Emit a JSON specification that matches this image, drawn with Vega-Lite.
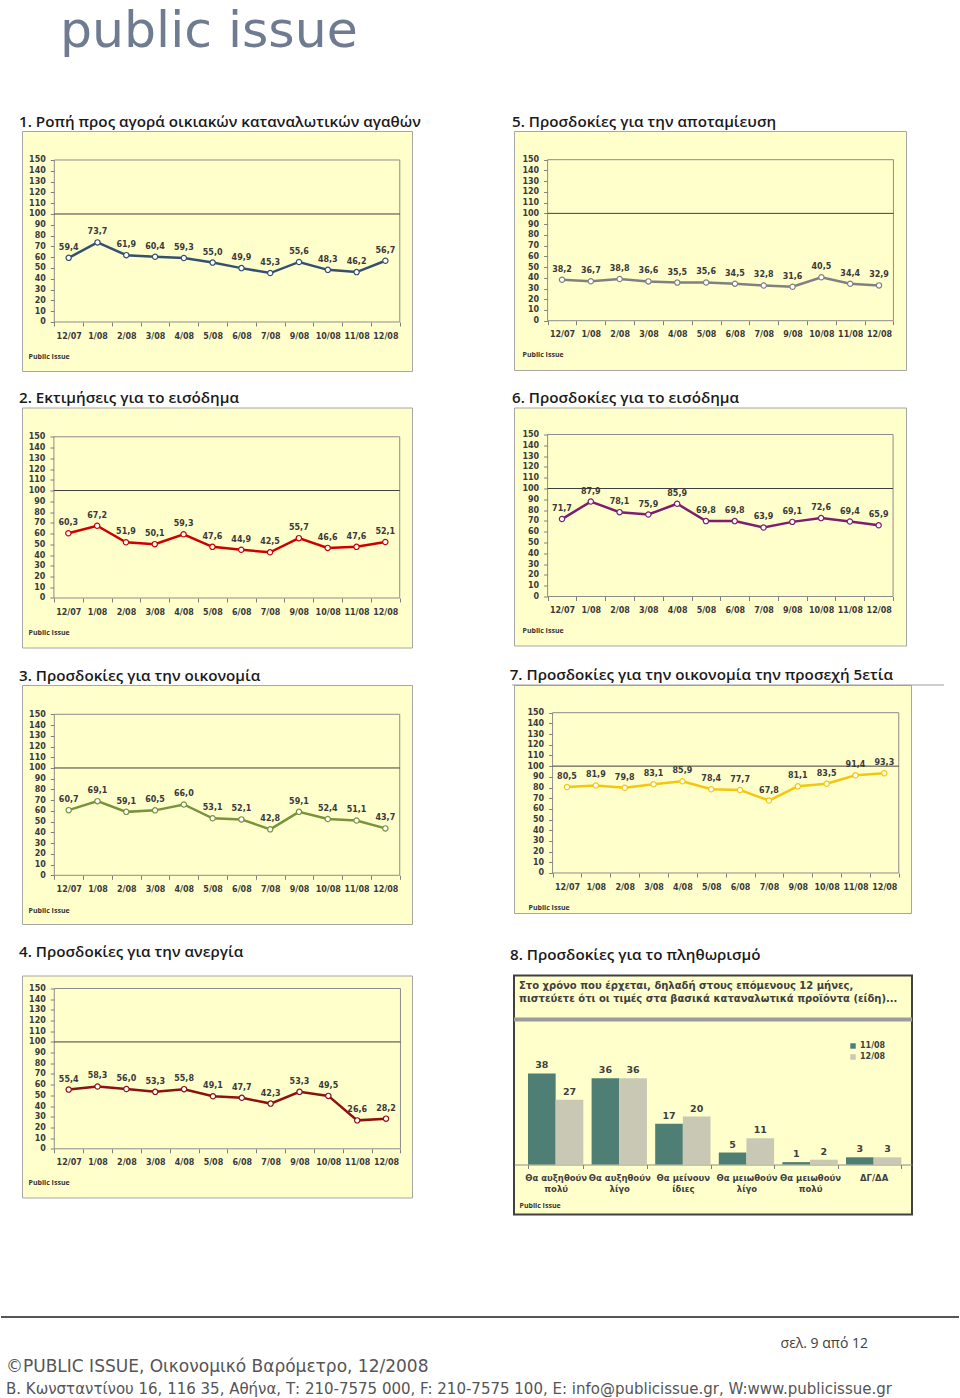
{
  "$schema": "https://vega.github.io/schema/vega-lite/v6.json",
  "padding": {"left": 0, "top": 7, "right": 0, "bottom": 0},
  "background": "white",
  "title": {"text": "public issue", "anchor": "start", "dx": 60, "offset": 56.8, "fontSize": 50.5, "font": "DejaVu Sans", "fontWeight": "normal", "color": "#6E7B91"},
  "config": {
    "locale": {"number": {"decimal": ",", "thousands": ".", "grouping": [3], "currency": ["", " €"]}},
    "view": {"fill": "#FFFFCC", "stroke": "#A6A6A6", "strokeWidth": 1},
    "title": {"font": "Open Sans", "fontSize": 15.2, "fontWeight": 600, "color": "#1a1a1a", "anchor": "start"},
    "axis": {"labelFont": "DejaVu Sans", "labelFontSize": 8, "labelFontWeight": "bold", "labelColor": "#3a3a3a", "tickColor": "#7f7f7f", "grid": false, "domain": false, "labelFlush": false, "labelOverlap": false, "titleFont": "Open Sans", "titleFontSize": 7, "titleFontWeight": "bold", "titleColor": "#333333"},
    "text": {"font": "DejaVu Sans", "fontSize": 8, "fontWeight": "bold", "color": "#3a3a3a"}
  },
  "datasets": {
    "p1": [{"m":"12/07","v":59.4},{"m":"1/08","v":73.7},{"m":"2/08","v":61.9},{"m":"3/08","v":60.4},{"m":"4/08","v":59.3},{"m":"5/08","v":55.0},{"m":"6/08","v":49.9},{"m":"7/08","v":45.3},{"m":"9/08","v":55.6},{"m":"10/08","v":48.3},{"m":"11/08","v":46.2},{"m":"12/08","v":56.7}],
    "p2": [{"m":"12/07","v":60.3},{"m":"1/08","v":67.2},{"m":"2/08","v":51.9},{"m":"3/08","v":50.1},{"m":"4/08","v":59.3},{"m":"5/08","v":47.6},{"m":"6/08","v":44.9},{"m":"7/08","v":42.5},{"m":"9/08","v":55.7},{"m":"10/08","v":46.6},{"m":"11/08","v":47.6},{"m":"12/08","v":52.1}],
    "p3": [{"m":"12/07","v":60.7},{"m":"1/08","v":69.1},{"m":"2/08","v":59.1},{"m":"3/08","v":60.5},{"m":"4/08","v":66.0},{"m":"5/08","v":53.1},{"m":"6/08","v":52.1},{"m":"7/08","v":42.8},{"m":"9/08","v":59.1},{"m":"10/08","v":52.4},{"m":"11/08","v":51.1},{"m":"12/08","v":43.7}],
    "p4": [{"m":"12/07","v":55.4},{"m":"1/08","v":58.3},{"m":"2/08","v":56.0},{"m":"3/08","v":53.3},{"m":"4/08","v":55.8},{"m":"5/08","v":49.1},{"m":"6/08","v":47.7},{"m":"7/08","v":42.3},{"m":"9/08","v":53.3},{"m":"10/08","v":49.5},{"m":"11/08","v":26.6},{"m":"12/08","v":28.2}],
    "p5": [{"m":"12/07","v":38.2},{"m":"1/08","v":36.7},{"m":"2/08","v":38.8},{"m":"3/08","v":36.6},{"m":"4/08","v":35.5},{"m":"5/08","v":35.6},{"m":"6/08","v":34.5},{"m":"7/08","v":32.8},{"m":"9/08","v":31.6},{"m":"10/08","v":40.5},{"m":"11/08","v":34.4},{"m":"12/08","v":32.9}],
    "p6": [{"m":"12/07","v":71.7},{"m":"1/08","v":87.9},{"m":"2/08","v":78.1},{"m":"3/08","v":75.9},{"m":"4/08","v":85.9},{"m":"5/08","v":69.8},{"m":"6/08","v":69.8},{"m":"7/08","v":63.9},{"m":"9/08","v":69.1},{"m":"10/08","v":72.6},{"m":"11/08","v":69.4},{"m":"12/08","v":65.9}],
    "p7": [{"m":"12/07","v":80.5},{"m":"1/08","v":81.9},{"m":"2/08","v":79.8},{"m":"3/08","v":83.1},{"m":"4/08","v":85.9},{"m":"5/08","v":78.4},{"m":"6/08","v":77.7},{"m":"7/08","v":67.8},{"m":"9/08","v":81.1},{"m":"10/08","v":83.5},{"m":"11/08","v":91.4},{"m":"12/08","v":93.3}],
    "p8": [
      {"cat":"Θα αυξηθούν πολύ","s":"11/08","v":38},{"cat":"Θα αυξηθούν πολύ","s":"12/08","v":27},
      {"cat":"Θα αυξηθούν λίγο","s":"11/08","v":36},{"cat":"Θα αυξηθούν λίγο","s":"12/08","v":36},
      {"cat":"Θα μείνουν ίδιες","s":"11/08","v":17},{"cat":"Θα μείνουν ίδιες","s":"12/08","v":20},
      {"cat":"Θα μειωθούν λίγο","s":"11/08","v":5},{"cat":"Θα μειωθούν λίγο","s":"12/08","v":11},
      {"cat":"Θα μειωθούν πολύ","s":"11/08","v":1},{"cat":"Θα μειωθούν πολύ","s":"12/08","v":2},
      {"cat":"ΔΓ/ΔΑ","s":"11/08","v":3},{"cat":"ΔΓ/ΔΑ","s":"12/08","v":3}
    ]
  },
  "vconcat": [
    {
      "hconcat": [
        {
          "width": 17, "height": 1,
          "view": {"fill": null, "stroke": null},
          "data": {"values": [{}]},
          "mark": {"type": "rule", "opacity": 0},
          "encoding": {"y": {"datum": 0, "type": "quantitative", "axis": null}}
        },
        {
          "vconcat": [
            {
              "hconcat": [
                {
                  "title": {"text": "1. Ροπή προς αγορά οικιακών καταναλωτικών αγαθών", "dx": -3, "offset": 1},
                  "width": 390, "height": 240,
                  "data": {"name": "p1"},
                  "transform": [{"window": [{"op": "row_number", "as": "i"}]}],
                  "layer": [
                    {"data": {"values": [{}]}, "mark": {"type": "rect", "filled": false, "stroke": "#8C8C8C", "strokeWidth": 1},
                     "encoding": {
                       "x": {"datum": 0.5, "type": "quantitative", "scale": {"domain": [-0.622, 12.924], "nice": false, "zero": false},
                             "axis": {"orient": "bottom", "offset": -49, "values": [0.5,1.5,2.5,3.5,4.5,5.5,6.5,7.5,8.5,9.5,10.5,11.5,12.5], "labels": false, "ticks": true, "tickSize": 4, "title": "Public Issue", "titleX": 6, "titleY": 34, "titleAlign": "left", "titleBaseline": "middle"}},
                       "x2": {"datum": 12.5},
                       "y": {"datum": 0, "type": "quantitative", "scale": {"domain": [-45.37, 176.85], "nice": false, "zero": false}, "axis": null},
                       "y2": {"datum": 150}}},
                    {"data": {"values": [{}]}, "mark": {"type": "rule", "color": "#3f3f3f", "strokeWidth": 1},
                     "encoding": {
                       "x": {"datum": 0.5, "type": "quantitative", "scale": {"domain": [-0.622, 12.924], "nice": false, "zero": false}, "axis": null},
                       "x2": {"datum": 12.5},
                       "y": {"datum": 100, "type": "quantitative", "scale": {"domain": [-45.37, 176.85], "nice": false, "zero": false}, "axis": null}}},
                    {"mark": {"type": "line", "color": "#34506E", "strokeWidth": 2.5},
                     "encoding": {
                       "x": {"field": "i", "type": "quantitative", "scale": {"domain": [-0.622, 12.924], "nice": false, "zero": false},
                             "axis": {"orient": "bottom", "offset": -49, "values": [1,2,3,4,5,6,7,8,9,10,11,12], "ticks": false, "labelPadding": 10, "title": null, "labelExpr": "['12/07','1/08','2/08','3/08','4/08','5/08','6/08','7/08','9/08','10/08','11/08','12/08'][datum.value-1]"}},
                       "y": {"field": "v", "type": "quantitative", "scale": {"domain": [-45.37, 176.85], "nice": false, "zero": false},
                             "axis": {"orient": "left", "values": [0,10,20,30,40,50,60,70,80,90,100,110,120,130,140,150], "offset": -32.3, "tickSize": 4, "labelPadding": 5, "title": null}}}},
                    {"mark": {"type": "point", "shape": "circle", "filled": true, "fill": "white", "stroke": "#34506E", "strokeWidth": 1.2, "size": 28, "opacity": 1},
                     "encoding": {
                       "x": {"field": "i", "type": "quantitative", "scale": {"domain": [-0.622, 12.924], "nice": false, "zero": false}, "axis": null},
                       "y": {"field": "v", "type": "quantitative", "scale": {"domain": [-45.37, 176.85], "nice": false, "zero": false}, "axis": null}}},
                    {"mark": {"type": "text", "dy": -10},
                     "encoding": {
                       "x": {"field": "i", "type": "quantitative", "scale": {"domain": [-0.622, 12.924], "nice": false, "zero": false}, "axis": null},
                       "y": {"field": "v", "type": "quantitative", "scale": {"domain": [-45.37, 176.85], "nice": false, "zero": false}, "axis": null},
                       "text": {"field": "v", "type": "quantitative", "format": ".1f"}}}
                  ],
                  "resolve": {"axis": {"x": "independent", "y": "independent"}}
                },
                {
                  "title": {"text": "5. Προσδοκίες για την αποταμίευση", "dx": -2, "offset": 1},
                  "width": 392, "height": 239,
                  "data": {"name": "p5"},
                  "transform": [{"window": [{"op": "row_number", "as": "i"}]}],
                  "layer": [
                    {"data": {"values": [{}]}, "mark": {"type": "rect", "filled": false, "stroke": "#8C8C8C", "strokeWidth": 1},
                     "encoding": {
                       "x": {"datum": 0.5, "type": "quantitative", "scale": {"domain": [-0.666, 12.936], "nice": false, "zero": false},
                             "axis": {"orient": "bottom", "offset": -49.3, "values": [0.5,1.5,2.5,3.5,4.5,5.5,6.5,7.5,8.5,9.5,10.5,11.5,12.5], "labels": false, "ticks": true, "tickSize": 4, "title": "Public Issue", "titleX": 8, "titleY": 33.5, "titleAlign": "left", "titleBaseline": "middle"}},
                       "x2": {"datum": 12.5},
                       "y": {"datum": 0, "type": "quantitative", "scale": {"domain": [-45.93, 176.74], "nice": false, "zero": false}, "axis": null},
                       "y2": {"datum": 150}}},
                    {"data": {"values": [{}]}, "mark": {"type": "rule", "color": "#3f3f3f", "strokeWidth": 1},
                     "encoding": {
                       "x": {"datum": 0.5, "type": "quantitative", "scale": {"domain": [-0.666, 12.936], "nice": false, "zero": false}, "axis": null},
                       "x2": {"datum": 12.5},
                       "y": {"datum": 100, "type": "quantitative", "scale": {"domain": [-45.93, 176.74], "nice": false, "zero": false}, "axis": null}}},
                    {"mark": {"type": "line", "color": "#808080", "strokeWidth": 2.5},
                     "encoding": {
                       "x": {"field": "i", "type": "quantitative", "scale": {"domain": [-0.666, 12.936], "nice": false, "zero": false},
                             "axis": {"orient": "bottom", "offset": -49.3, "values": [1,2,3,4,5,6,7,8,9,10,11,12], "ticks": false, "labelPadding": 10, "title": null, "labelExpr": "['12/07','1/08','2/08','3/08','4/08','5/08','6/08','7/08','9/08','10/08','11/08','12/08'][datum.value-1]"}},
                       "y": {"field": "v", "type": "quantitative", "scale": {"domain": [-45.93, 176.74], "nice": false, "zero": false},
                             "axis": {"orient": "left", "values": [0,10,20,30,40,50,60,70,80,90,100,110,120,130,140,150], "offset": -33.6, "tickSize": 4, "labelPadding": 5, "title": null}}}},
                    {"mark": {"type": "point", "shape": "circle", "filled": true, "fill": "white", "stroke": "#808080", "strokeWidth": 1.2, "size": 28, "opacity": 1},
                     "encoding": {
                       "x": {"field": "i", "type": "quantitative", "scale": {"domain": [-0.666, 12.936], "nice": false, "zero": false}, "axis": null},
                       "y": {"field": "v", "type": "quantitative", "scale": {"domain": [-45.93, 176.74], "nice": false, "zero": false}, "axis": null}}},
                    {"mark": {"type": "text", "dy": -10},
                     "encoding": {
                       "x": {"field": "i", "type": "quantitative", "scale": {"domain": [-0.666, 12.936], "nice": false, "zero": false}, "axis": null},
                       "y": {"field": "v", "type": "quantitative", "scale": {"domain": [-45.93, 176.74], "nice": false, "zero": false}, "axis": null},
                       "text": {"field": "v", "type": "quantitative", "format": ".1f"}}}
                  ],
                  "resolve": {"axis": {"x": "independent", "y": "independent"}}
                }
              ],
              "spacing": 102, "bounds": "flush"
            },
            {
              "hconcat": [
                {
                  "title": {"text": "2. Εκτιμήσεις για το εισόδημα", "dx": -3, "offset": 1},
                  "width": 390, "height": 240,
                  "data": {"name": "p2"},
                  "transform": [{"window": [{"op": "row_number", "as": "i"}]}],
                  "layer": [
                    {"data": {"values": [{}]}, "mark": {"type": "rect", "filled": false, "stroke": "#8C8C8C", "strokeWidth": 1},
                     "encoding": {
                       "x": {"datum": 0.5, "type": "quantitative", "scale": {"domain": [-0.607, 12.926], "nice": false, "zero": false},
                             "axis": {"orient": "bottom", "offset": -49.5, "values": [0.5,1.5,2.5,3.5,4.5,5.5,6.5,7.5,8.5,9.5,10.5,11.5,12.5], "labels": false, "ticks": true, "tickSize": 4, "title": "Public Issue", "titleX": 6, "titleY": 34.5, "titleAlign": "left", "titleBaseline": "middle"}},
                       "x2": {"datum": 12.5},
                       "y": {"datum": 0, "type": "quantitative", "scale": {"domain": [-46.06, 177.26], "nice": false, "zero": false}, "axis": null},
                       "y2": {"datum": 150}}},
                    {"data": {"values": [{}]}, "mark": {"type": "rule", "color": "#3f3f3f", "strokeWidth": 1},
                     "encoding": {
                       "x": {"datum": 0.5, "type": "quantitative", "scale": {"domain": [-0.607, 12.926], "nice": false, "zero": false}, "axis": null},
                       "x2": {"datum": 12.5},
                       "y": {"datum": 100, "type": "quantitative", "scale": {"domain": [-46.06, 177.26], "nice": false, "zero": false}, "axis": null}}},
                    {"mark": {"type": "line", "color": "#CC0000", "strokeWidth": 2.5},
                     "encoding": {
                       "x": {"field": "i", "type": "quantitative", "scale": {"domain": [-0.607, 12.926], "nice": false, "zero": false},
                             "axis": {"orient": "bottom", "offset": -49.5, "values": [1,2,3,4,5,6,7,8,9,10,11,12], "ticks": false, "labelPadding": 10, "title": null, "labelExpr": "['12/07','1/08','2/08','3/08','4/08','5/08','6/08','7/08','9/08','10/08','11/08','12/08'][datum.value-1]"}},
                       "y": {"field": "v", "type": "quantitative", "scale": {"domain": [-46.06, 177.26], "nice": false, "zero": false},
                             "axis": {"orient": "left", "values": [0,10,20,30,40,50,60,70,80,90,100,110,120,130,140,150], "offset": -31.9, "tickSize": 4, "labelPadding": 5, "title": null}}}},
                    {"mark": {"type": "point", "shape": "circle", "filled": true, "fill": "white", "stroke": "#CC0000", "strokeWidth": 1.2, "size": 28, "opacity": 1},
                     "encoding": {
                       "x": {"field": "i", "type": "quantitative", "scale": {"domain": [-0.607, 12.926], "nice": false, "zero": false}, "axis": null},
                       "y": {"field": "v", "type": "quantitative", "scale": {"domain": [-46.06, 177.26], "nice": false, "zero": false}, "axis": null}}},
                    {"mark": {"type": "text", "dy": -10},
                     "encoding": {
                       "x": {"field": "i", "type": "quantitative", "scale": {"domain": [-0.607, 12.926], "nice": false, "zero": false}, "axis": null},
                       "y": {"field": "v", "type": "quantitative", "scale": {"domain": [-46.06, 177.26], "nice": false, "zero": false}, "axis": null},
                       "text": {"field": "v", "type": "quantitative", "format": ".1f"}}}
                  ],
                  "resolve": {"axis": {"x": "independent", "y": "independent"}}
                },
                {
                  "title": {"text": "6. Προσδοκίες για το εισόδημα", "dx": -2, "offset": 1},
                  "width": 392, "height": 238,
                  "data": {"name": "p6"},
                  "transform": [{"window": [{"op": "row_number", "as": "i"}]}],
                  "layer": [
                    {"data": {"values": [{}]}, "mark": {"type": "rect", "filled": false, "stroke": "#8C8C8C", "strokeWidth": 1},
                     "encoding": {
                       "x": {"datum": 0.5, "type": "quantitative", "scale": {"domain": [-0.667, 12.949], "nice": false, "zero": false},
                             "axis": {"orient": "bottom", "offset": -49, "values": [0.5,1.5,2.5,3.5,4.5,5.5,6.5,7.5,8.5,9.5,10.5,11.5,12.5], "labels": false, "ticks": true, "tickSize": 4, "title": "Public Issue", "titleX": 8, "titleY": 34, "titleAlign": "left", "titleBaseline": "middle"}},
                       "x2": {"datum": 12.5},
                       "y": {"datum": 0, "type": "quantitative", "scale": {"domain": [-45.37, 175], "nice": false, "zero": false}, "axis": null},
                       "y2": {"datum": 150}}},
                    {"data": {"values": [{}]}, "mark": {"type": "rule", "color": "#3f3f3f", "strokeWidth": 1},
                     "encoding": {
                       "x": {"datum": 0.5, "type": "quantitative", "scale": {"domain": [-0.667, 12.949], "nice": false, "zero": false}, "axis": null},
                       "x2": {"datum": 12.5},
                       "y": {"datum": 100, "type": "quantitative", "scale": {"domain": [-45.37, 175], "nice": false, "zero": false}, "axis": null}}},
                    {"mark": {"type": "line", "color": "#7B1F6E", "strokeWidth": 2.5},
                     "encoding": {
                       "x": {"field": "i", "type": "quantitative", "scale": {"domain": [-0.667, 12.949], "nice": false, "zero": false},
                             "axis": {"orient": "bottom", "offset": -49, "values": [1,2,3,4,5,6,7,8,9,10,11,12], "ticks": false, "labelPadding": 10, "title": null, "labelExpr": "['12/07','1/08','2/08','3/08','4/08','5/08','6/08','7/08','9/08','10/08','11/08','12/08'][datum.value-1]"}},
                       "y": {"field": "v", "type": "quantitative", "scale": {"domain": [-45.37, 175], "nice": false, "zero": false},
                             "axis": {"orient": "left", "values": [0,10,20,30,40,50,60,70,80,90,100,110,120,130,140,150], "offset": -33.6, "tickSize": 4, "labelPadding": 5, "title": null}}}},
                    {"mark": {"type": "point", "shape": "circle", "filled": true, "fill": "white", "stroke": "#7B1F6E", "strokeWidth": 1.2, "size": 28, "opacity": 1},
                     "encoding": {
                       "x": {"field": "i", "type": "quantitative", "scale": {"domain": [-0.667, 12.949], "nice": false, "zero": false}, "axis": null},
                       "y": {"field": "v", "type": "quantitative", "scale": {"domain": [-45.37, 175], "nice": false, "zero": false}, "axis": null}}},
                    {"mark": {"type": "text", "dy": -10},
                     "encoding": {
                       "x": {"field": "i", "type": "quantitative", "scale": {"domain": [-0.667, 12.949], "nice": false, "zero": false}, "axis": null},
                       "y": {"field": "v", "type": "quantitative", "scale": {"domain": [-45.37, 175], "nice": false, "zero": false}, "axis": null},
                       "text": {"field": "v", "type": "quantitative", "format": ".1f"}}}
                  ],
                  "resolve": {"axis": {"x": "independent", "y": "independent"}}
                }
              ],
              "spacing": 102, "bounds": "flush"
            },
            {
              "hconcat": [
                {
                  "title": {"text": "3. Προσδοκίες για την οικονομία", "dx": -3, "offset": 1},
                  "width": 390, "height": 239,
                  "data": {"name": "p3"},
                  "transform": [{"window": [{"op": "row_number", "as": "i"}]}],
                  "layer": [
                    {"data": {"values": [{}]}, "mark": {"type": "rect", "filled": false, "stroke": "#8C8C8C", "strokeWidth": 1},
                     "encoding": {
                       "x": {"datum": 0.5, "type": "quantitative", "scale": {"domain": [-0.622, 12.926], "nice": false, "zero": false},
                             "axis": {"orient": "bottom", "offset": -48.7, "values": [0.5,1.5,2.5,3.5,4.5,5.5,6.5,7.5,8.5,9.5,10.5,11.5,12.5], "labels": false, "ticks": true, "tickSize": 4, "title": "Public Issue", "titleX": 6, "titleY": 35, "titleAlign": "left", "titleBaseline": "middle"}},
                       "x2": {"datum": 12.5},
                       "y": {"datum": 0, "type": "quantitative", "scale": {"domain": [-45.37, 177.3], "nice": false, "zero": false}, "axis": null},
                       "y2": {"datum": 150}}},
                    {"data": {"values": [{}]}, "mark": {"type": "rule", "color": "#3f3f3f", "strokeWidth": 1},
                     "encoding": {
                       "x": {"datum": 0.5, "type": "quantitative", "scale": {"domain": [-0.622, 12.926], "nice": false, "zero": false}, "axis": null},
                       "x2": {"datum": 12.5},
                       "y": {"datum": 100, "type": "quantitative", "scale": {"domain": [-45.37, 177.3], "nice": false, "zero": false}, "axis": null}}},
                    {"mark": {"type": "line", "color": "#77933C", "strokeWidth": 2.5},
                     "encoding": {
                       "x": {"field": "i", "type": "quantitative", "scale": {"domain": [-0.622, 12.926], "nice": false, "zero": false},
                             "axis": {"orient": "bottom", "offset": -48.7, "values": [1,2,3,4,5,6,7,8,9,10,11,12], "ticks": false, "labelPadding": 10, "title": null, "labelExpr": "['12/07','1/08','2/08','3/08','4/08','5/08','6/08','7/08','9/08','10/08','11/08','12/08'][datum.value-1]"}},
                       "y": {"field": "v", "type": "quantitative", "scale": {"domain": [-45.37, 177.3], "nice": false, "zero": false},
                             "axis": {"orient": "left", "values": [0,10,20,30,40,50,60,70,80,90,100,110,120,130,140,150], "offset": -32.3, "tickSize": 4, "labelPadding": 5, "title": null}}}},
                    {"mark": {"type": "point", "shape": "circle", "filled": true, "fill": "white", "stroke": "#77933C", "strokeWidth": 1.2, "size": 28, "opacity": 1},
                     "encoding": {
                       "x": {"field": "i", "type": "quantitative", "scale": {"domain": [-0.622, 12.926], "nice": false, "zero": false}, "axis": null},
                       "y": {"field": "v", "type": "quantitative", "scale": {"domain": [-45.37, 177.3], "nice": false, "zero": false}, "axis": null}}},
                    {"mark": {"type": "text", "dy": -10},
                     "encoding": {
                       "x": {"field": "i", "type": "quantitative", "scale": {"domain": [-0.622, 12.926], "nice": false, "zero": false}, "axis": null},
                       "y": {"field": "v", "type": "quantitative", "scale": {"domain": [-45.37, 177.3], "nice": false, "zero": false}, "axis": null},
                       "text": {"field": "v", "type": "quantitative", "format": ".1f"}}}
                  ],
                  "resolve": {"axis": {"x": "independent", "y": "independent"}}
                },
                {
                  "title": {"text": "7. Προσδοκίες για την οικονομία την προσεχή 5ετία", "dx": -2, "offset": 1},
                  "width": 397, "height": 228,
                  "data": {"name": "p7"},
                  "transform": [{"window": [{"op": "row_number", "as": "i"}]}],
                  "layer": [
                    {"data": {"values": [{}]}, "mark": {"type": "rule", "color": "#9A9A9A", "strokeWidth": 1},
                     "encoding": {
                       "x": {"datum": -0.9, "type": "quantitative", "scale": {"domain": [-0.837, 12.924], "nice": false, "zero": false}, "axis": null},
                       "x2": {"datum": 14.07},
                       "y": {"datum": 175.92, "type": "quantitative", "scale": {"domain": [-37.43, 175.92], "nice": false, "zero": false}, "axis": null}}},
                    {"data": {"values": [{}]}, "mark": {"type": "rect", "filled": false, "stroke": "#8C8C8C", "strokeWidth": 1},
                     "encoding": {
                       "x": {"datum": 0.5, "type": "quantitative", "scale": {"domain": [-0.837, 12.924], "nice": false, "zero": false},
                             "axis": {"orient": "bottom", "offset": -40, "values": [0.5,1.5,2.5,3.5,4.5,5.5,6.5,7.5,8.5,9.5,10.5,11.5,12.5], "labels": false, "ticks": true, "tickSize": 4, "title": "Public Issue", "titleX": 14, "titleY": 34, "titleAlign": "left", "titleBaseline": "middle"}},
                       "x2": {"datum": 12.5},
                       "y": {"datum": 0, "type": "quantitative", "scale": {"domain": [-37.43, 175.92], "nice": false, "zero": false}, "axis": null},
                       "y2": {"datum": 150}}},
                    {"data": {"values": [{}]}, "mark": {"type": "rule", "color": "#3f3f3f", "strokeWidth": 1},
                     "encoding": {
                       "x": {"datum": 0.5, "type": "quantitative", "scale": {"domain": [-0.837, 12.924], "nice": false, "zero": false}, "axis": null},
                       "x2": {"datum": 12.5},
                       "y": {"datum": 100, "type": "quantitative", "scale": {"domain": [-37.43, 175.92], "nice": false, "zero": false}, "axis": null}}},
                    {"mark": {"type": "line", "color": "#F4C70C", "strokeWidth": 2.5},
                     "encoding": {
                       "x": {"field": "i", "type": "quantitative", "scale": {"domain": [-0.837, 12.924], "nice": false, "zero": false},
                             "axis": {"orient": "bottom", "offset": -40, "values": [1,2,3,4,5,6,7,8,9,10,11,12], "ticks": false, "labelPadding": 10, "title": null, "labelExpr": "['12/07','1/08','2/08','3/08','4/08','5/08','6/08','7/08','9/08','10/08','11/08','12/08'][datum.value-1]"}},
                       "y": {"field": "v", "type": "quantitative", "scale": {"domain": [-37.43, 175.92], "nice": false, "zero": false},
                             "axis": {"orient": "left", "values": [0,10,20,30,40,50,60,70,80,90,100,110,120,130,140,150], "offset": -38.6, "tickSize": 4, "labelPadding": 5, "title": null}}}},
                    {"mark": {"type": "point", "shape": "circle", "filled": true, "fill": "white", "stroke": "#F4C70C", "strokeWidth": 1.2, "size": 28, "opacity": 1},
                     "encoding": {
                       "x": {"field": "i", "type": "quantitative", "scale": {"domain": [-0.837, 12.924], "nice": false, "zero": false}, "axis": null},
                       "y": {"field": "v", "type": "quantitative", "scale": {"domain": [-37.43, 175.92], "nice": false, "zero": false}, "axis": null}}},
                    {"mark": {"type": "text", "dy": -10},
                     "encoding": {
                       "x": {"field": "i", "type": "quantitative", "scale": {"domain": [-0.837, 12.924], "nice": false, "zero": false}, "axis": null},
                       "y": {"field": "v", "type": "quantitative", "scale": {"domain": [-37.43, 175.92], "nice": false, "zero": false}, "axis": null},
                       "text": {"field": "v", "type": "quantitative", "format": ".1f"}}}
                  ],
                  "resolve": {"axis": {"x": "independent", "y": "independent"}}
                }
              ],
              "spacing": 102, "bounds": "flush"
            },
            {
              "hconcat": [
                {
                  "title": {"text": "4. Προσδοκίες για την ανεργία", "dx": -3, "offset": 15.8},
                  "width": 390, "height": 222,
                  "data": {"name": "p4"},
                  "transform": [{"window": [{"op": "row_number", "as": "i"}]}],
                  "layer": [
                    {"data": {"values": [{}]}, "mark": {"type": "rect", "filled": false, "stroke": "#8C8C8C", "strokeWidth": 1},
                     "encoding": {
                       "x": {"datum": 0.5, "type": "quantitative", "scale": {"domain": [-0.619, 12.9], "nice": false, "zero": false},
                             "axis": {"orient": "bottom", "offset": -48.7, "values": [0.5,1.5,2.5,3.5,4.5,5.5,6.5,7.5,8.5,9.5,10.5,11.5,12.5], "labels": false, "ticks": true, "tickSize": 4, "title": "Public Issue", "titleX": 6, "titleY": 34, "titleAlign": "left", "titleBaseline": "middle"}},
                       "x2": {"datum": 12.5},
                       "y": {"datum": 0, "type": "quantitative", "scale": {"domain": [-45.57, 162.16], "nice": false, "zero": false}, "axis": null},
                       "y2": {"datum": 150}}},
                    {"data": {"values": [{}]}, "mark": {"type": "rule", "color": "#3f3f3f", "strokeWidth": 1},
                     "encoding": {
                       "x": {"datum": 0.5, "type": "quantitative", "scale": {"domain": [-0.619, 12.9], "nice": false, "zero": false}, "axis": null},
                       "x2": {"datum": 12.5},
                       "y": {"datum": 100, "type": "quantitative", "scale": {"domain": [-45.57, 162.16], "nice": false, "zero": false}, "axis": null}}},
                    {"mark": {"type": "line", "color": "#8C1111", "strokeWidth": 2.5},
                     "encoding": {
                       "x": {"field": "i", "type": "quantitative", "scale": {"domain": [-0.619, 12.9], "nice": false, "zero": false},
                             "axis": {"orient": "bottom", "offset": -48.7, "values": [1,2,3,4,5,6,7,8,9,10,11,12], "ticks": false, "labelPadding": 10, "title": null, "labelExpr": "['12/07','1/08','2/08','3/08','4/08','5/08','6/08','7/08','9/08','10/08','11/08','12/08'][datum.value-1]"}},
                       "y": {"field": "v", "type": "quantitative", "scale": {"domain": [-45.57, 162.16], "nice": false, "zero": false},
                             "axis": {"orient": "left", "values": [0,10,20,30,40,50,60,70,80,90,100,110,120,130,140,150], "offset": -32.3, "tickSize": 4, "labelPadding": 5, "title": null}}}},
                    {"mark": {"type": "point", "shape": "circle", "filled": true, "fill": "white", "stroke": "#8C1111", "strokeWidth": 1.2, "size": 28, "opacity": 1},
                     "encoding": {
                       "x": {"field": "i", "type": "quantitative", "scale": {"domain": [-0.619, 12.9], "nice": false, "zero": false}, "axis": null},
                       "y": {"field": "v", "type": "quantitative", "scale": {"domain": [-45.57, 162.16], "nice": false, "zero": false}, "axis": null}}},
                    {"mark": {"type": "text", "dy": -10},
                     "encoding": {
                       "x": {"field": "i", "type": "quantitative", "scale": {"domain": [-0.619, 12.9], "nice": false, "zero": false}, "axis": null},
                       "y": {"field": "v", "type": "quantitative", "scale": {"domain": [-45.57, 162.16], "nice": false, "zero": false}, "axis": null},
                       "text": {"field": "v", "type": "quantitative", "format": ".1f"}}}
                  ],
                  "resolve": {"axis": {"x": "independent", "y": "independent"}}
                },
                {
                  "title": {"text": "8. Προσδοκίες για το πληθωρισμό", "dx": -2, "offset": 12},
                  "width": 398, "height": 239,
                  "view": {"fill": "#FFFFCC", "stroke": "#404040", "strokeWidth": 2},
                  "data": {"name": "p8"},
                  "layer": [
                    {"data": {"values": [{}]}, "mark": {"type": "rule", "color": "#9C9C9C", "strokeWidth": 4},
                     "encoding": {
                       "y": {"datum": 60.54, "type": "quantitative", "scale": {"domain": [-20.88, 78.91], "nice": false, "zero": false}, "axis": null}}},
                    {"data": {"values": [{}]},
                     "mark": {"type": "text", "align": "left", "baseline": "top", "dx": -9, "fontSize": 10, "fontWeight": "bold", "color": "#404040", "lineHeight": 13.5},
                     "encoding": {
                       "x": {"datum": "Θα αυξηθούν πολύ", "type": "nominal", "bandPosition": 0, "scale": {"domain": ["Θα αυξηθούν πολύ", "Θα αυξηθούν λίγο", "Θα μείνουν ίδιες", "Θα μειωθούν λίγο", "Θα μειωθούν πολύ", "ΔΓ/ΔΑ"], "paddingInner": 0.13, "paddingOuter": 0.194, "align": 0.567}, "axis": null},
                       "y": {"datum": 76.82, "type": "quantitative", "scale": {"domain": [-20.88, 78.91], "nice": false, "zero": false}, "axis": null},
                       "text": {"value": ["Στο χρόνο που έρχεται, δηλαδή στους επόμενους 12 μήνες,", "πιστεύετε ότι οι τιμές στα βασικά καταναλωτικά προϊόντα (είδη)..."]}}},
                    {"mark": {"type": "bar"},
                     "encoding": {
                       "x": {"field": "cat", "type": "nominal", "sort": null, "scale": {"domain": ["Θα αυξηθούν πολύ", "Θα αυξηθούν λίγο", "Θα μείνουν ίδιες", "Θα μειωθούν λίγο", "Θα μειωθούν πολύ", "ΔΓ/ΔΑ"], "paddingInner": 0.13, "paddingOuter": 0.194, "align": 0.567},
                             "axis": {"orient": "bottom", "offset": -50, "labelAngle": 0, "tickBand": "extent", "ticks": true, "tickSize": 4, "domain": true, "domainColor": "#8C8C8C",
                                      "labelFontSize": 8.5, "labelColor": "#404040", "labelPadding": 5, "labelLineHeight": 11, "labelBaseline": "top",
                                      "labelExpr": "lastindexof(datum.label,' ') > 0 ? [substring(datum.label,0,lastindexof(datum.label,' ')), substring(datum.label,lastindexof(datum.label,' ')+1)] : datum.label",
                                      "title": "Public Issue", "titleX": 5, "titleY": 41, "titleAlign": "left", "titleBaseline": "middle"}},
                       "xOffset": {"field": "s", "type": "nominal", "sort": null, "scale": {"paddingInner": 0, "paddingOuter": 0}},
                       "y": {"field": "v", "type": "quantitative", "scale": {"domain": [-20.88, 78.91], "nice": false, "zero": false}, "axis": null},
                       "color": {"field": "s", "type": "nominal", "sort": null, "scale": {"range": ["#4E7E74", "#C8C8B4"]},
                                 "legend": {"orient": "none", "legendX": 848, "legendY": 911, "title": null, "symbolType": "square", "symbolSize": 30, "symbolStrokeWidth": 0,
                                            "labelFont": "DejaVu Sans", "labelFontSize": 8, "labelFontWeight": "bold", "labelColor": "#404040", "rowPadding": 3, "labelOffset": 3}}}},
                    {"mark": {"type": "text", "baseline": "bottom", "dy": -3, "fontSize": 9.5, "color": "#404040"},
                     "encoding": {
                       "x": {"field": "cat", "type": "nominal", "sort": null, "axis": null},
                       "xOffset": {"field": "s", "type": "nominal", "sort": null},
                       "y": {"field": "v", "type": "quantitative", "scale": {"domain": [-20.88, 78.91], "nice": false, "zero": false}, "axis": null},
                       "text": {"field": "v", "type": "quantitative"}}}
                  ],
                  "resolve": {"axis": {"x": "independent", "y": "independent"}}
                }
              ],
              "spacing": 102, "bounds": "flush"
            }
          ],
          "spacing": 18.5
        }
      ],
      "spacing": 0
    },
    {
      "width": 958, "height": 101,
      "view": {"fill": null, "stroke": null},
      "data": {"values": [{}]},
      "mark": {"type": "rule", "color": "#555555", "strokeWidth": 2},
      "encoding": {"y": {"datum": 0, "type": "quantitative", "scale": {"domain": [0, 1]}, "axis": null}},
      "title": {"text": "σελ. 9 από 12", "orient": "bottom", "anchor": "end", "dx": -92, "offset": 19, "fontSize": 14, "font": "Open Sans", "fontWeight": "normal", "color": "#404040"}
    },
    {
      "width": 958, "height": 1,
      "view": {"fill": null, "stroke": null},
      "data": {"values": [{}]},
      "mark": {"type": "rule", "opacity": 0},
      "encoding": {"y": {"datum": 0, "type": "quantitative", "scale": {"domain": [0, 1]}, "axis": null}},
      "title": {"text": "©PUBLIC ISSUE, Οικονομικό Βαρόμετρο, 12/2008", "subtitle": "Β. Κωνσταντίνου 16, 116 35, Αθήνα, Τ: 210-7575 000, F: 210-7575 100, E: info@publicissue.gr, W:www.publicissue.gr",
                "orient": "bottom", "anchor": "start", "dx": 5, "offset": 7, "fontSize": 17, "font": "DejaVu Sans", "fontWeight": "normal", "color": "#555555",
                "subtitleFont": "DejaVu Sans", "subtitleFontSize": 15, "subtitleColor": "#555555", "subtitlePadding": 6}
    }
  ],
  "spacing": 0
}
